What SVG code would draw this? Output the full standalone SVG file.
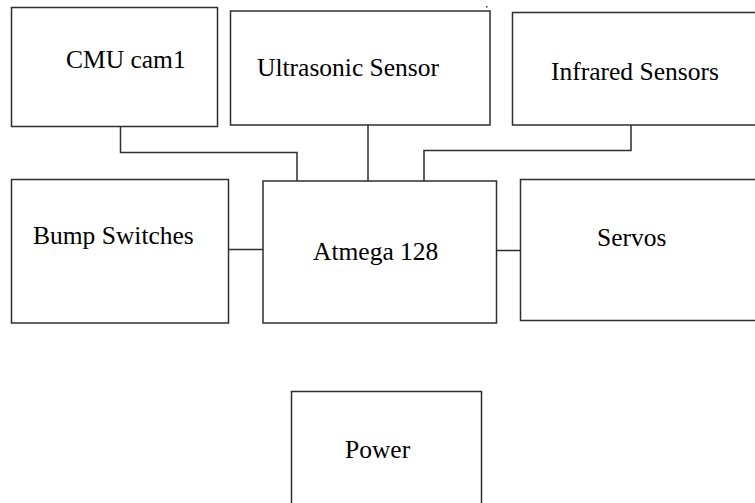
<svg xmlns="http://www.w3.org/2000/svg" width="755" height="503" viewBox="0 0 755 503">
<style>
.box{fill:#fff;stroke:#2e2e2e;stroke-width:1.5}
.lbl{font-size:25.5px;fill:#000}
.wire{fill:none;stroke:#2e2e2e;stroke-width:1.5}
</style>
<rect width="755" height="503" fill="#fff"/>
<g id="connectors">
<polyline class="wire" points="120.5,127 120.5,152.5 297,152.5 297,182"/>
<line class="wire" x1="368" y1="125" x2="368" y2="181"/>
<polyline class="wire" points="631,125 631,150.5 424,150.5 424,181"/>
<line class="wire" x1="229" y1="249.5" x2="263" y2="249.5"/>
<line class="wire" x1="497" y1="250.5" x2="520" y2="250.5"/>
</g>
<g font-family="Liberation Serif, DejaVu Serif, serif">
<g id="cmu">
<rect class="box" x="11.5" y="7.5" width="206" height="119"/>
<text class="lbl" x="66" y="68">CMU cam1</text>
</g>
<g id="ultrasonic">
<rect class="box" x="230.5" y="11" width="259.5" height="114"/>
<text class="lbl" x="257" y="76">Ultrasonic Sensor</text>
</g>
<rect x="486" y="6" width="1.5" height="1.5" fill="#333"/>
<g id="infrared">
<rect class="box" x="512.5" y="12.5" width="260" height="112.5"/>
<text class="lbl" x="551" y="80">Infrared Sensors</text>
</g>
<g id="bump">
<rect class="box" x="11.5" y="179.5" width="217" height="143.5"/>
<text class="lbl" x="33" y="244">Bump Switches</text>
</g>
<g id="atmega">
<rect class="box" x="263" y="181" width="233.5" height="142"/>
<text class="lbl" x="313" y="260">Atmega 128</text>
</g>
<g id="servos">
<rect class="box" x="520.5" y="179.5" width="260" height="141"/>
<text class="lbl" x="597" y="246">Servos</text>
</g>
<g id="power">
<rect class="box" x="291.5" y="391.5" width="190" height="130"/>
<text class="lbl" x="345" y="458">Power</text>
</g>
</g>
</svg>
